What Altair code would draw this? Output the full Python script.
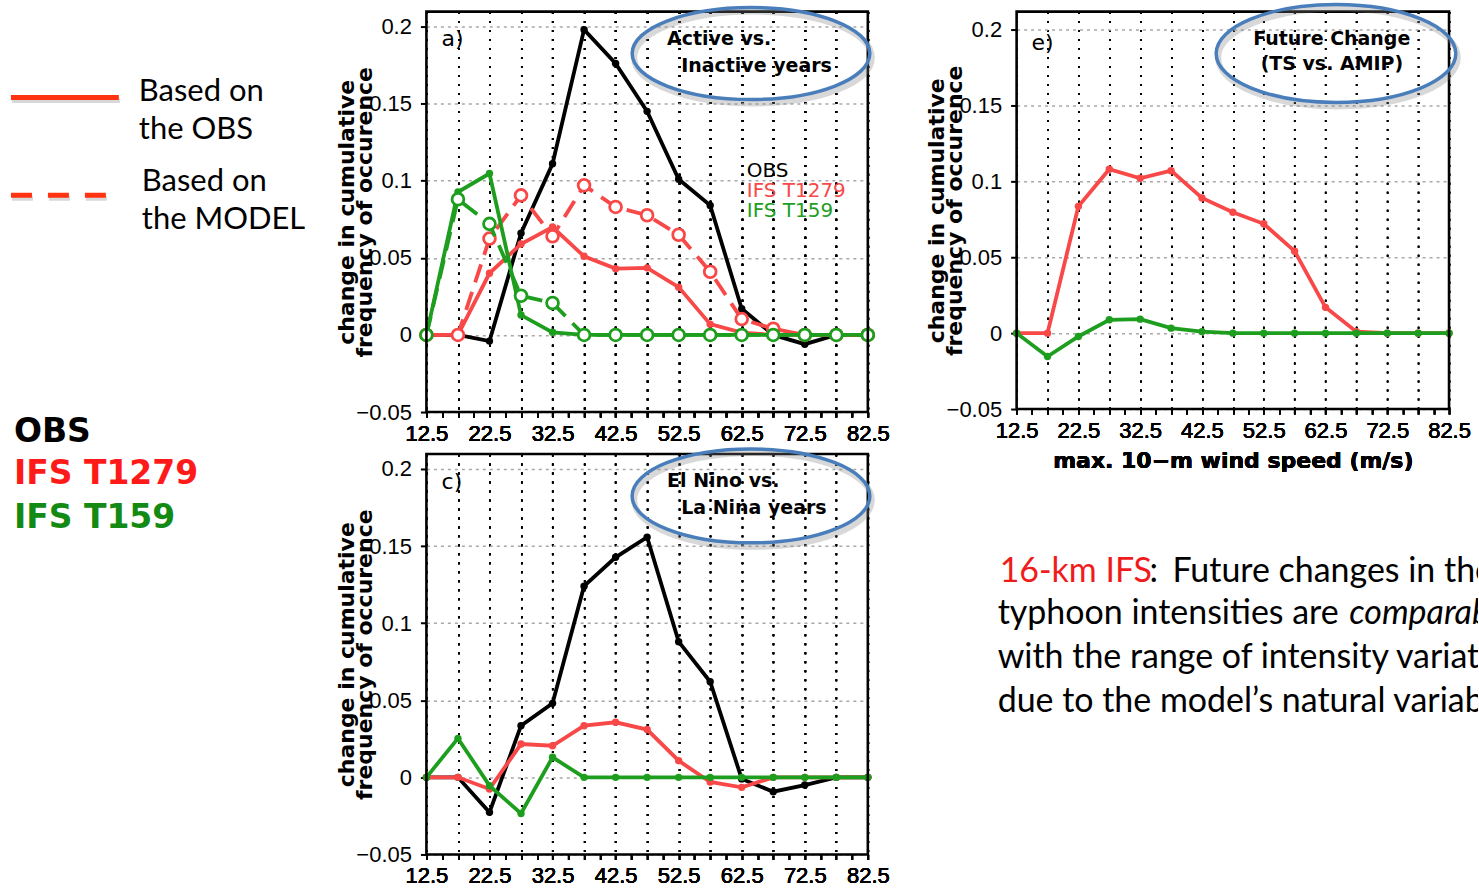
import altair as alt
import pandas as pd

# ---------------- data ----------------
speeds = [12.5, 17.5, 22.5, 27.5, 32.5, 37.5, 42.5, 47.5, 52.5, 57.5, 62.5, 67.5, 72.5, 77.5, 82.5]
minor_ticks = [12.5, 15, 17.5, 20, 22.5, 25, 27.5, 30, 32.5, 35, 37.5, 40, 42.5, 45, 47.5, 50,
               52.5, 55, 57.5, 60, 62.5, 65, 67.5, 70, 72.5, 75, 77.5, 80, 82.5]
series_names = ["OBS", "IFS T1279", "IFS T159"]
y_ticks = [-0.05, 0, 0.05, 0.1, 0.15, 0.2]

# panel a) Active vs. Inactive years
a_obs = [0, 0, -0.004, 0.066, 0.111, 0.198, 0.176, 0.145, 0.101, 0.084, 0.017, 0.0, -0.006, 0, 0]
a_t1279_obs = [0, 0, 0.040, 0.059, 0.070, 0.051, 0.043, 0.0435, 0.031, 0.007, 0.0015, 0, 0, 0, 0]
a_t1279_model = [0, 0, 0.0625, 0.0905, 0.064, 0.097, 0.083, 0.0776, 0.065, 0.041, 0.0103, 0.004, 0, 0, 0]
a_t159_obs = [0, 0.0927, 0.1047, 0.0129, 0.0017, 0, 0, 0, 0, 0, 0, 0, 0, 0, 0]
a_t159_model = [0, 0.088, 0.072, 0.0254, 0.0207, 0, 0, 0, 0, 0, 0, 0, 0, 0, 0]

# panel c) El Nino vs. La Nina years
c_obs = [0, 0, -0.0227, 0.0335, 0.048, 0.124, 0.1427, 0.1557, 0.088, 0.062, -0.001, -0.0093, -0.005, 0, 0]
c_t1279 = [0, 0, -0.0076, 0.0216, 0.0205, 0.0335, 0.0357, 0.031, 0.0108, -0.003, -0.0065, 0, 0, 0, 0]
c_t159 = [0, 0.0253, -0.0054, -0.0234, 0.013, 0, 0, 0, 0, 0, 0, 0, 0, 0, 0]

# panel e) Future change (TS vs. AMIP)
e_t1279 = [0, 0, 0.0835, 0.108, 0.102, 0.107, 0.089, 0.0796, 0.072, 0.054, 0.017, 0.001, 0, 0, 0]
e_t159 = [0, -0.0154, -0.0022, 0.0088, 0.0092, 0.0033, 0.001, 0, 0, 0, 0, 0, 0, 0, 0]

rows = []


def add(panel, series, basis, vals):
    for s, v in zip(speeds, vals):
        rows.append(dict(panel=panel, series=series, basis=basis, speed=s, value=v))


add("a", "OBS", "OBS", a_obs)
add("a", "IFS T1279", "OBS", a_t1279_obs)
add("a", "IFS T1279", "MODEL", a_t1279_model)
add("a", "IFS T159", "OBS", a_t159_obs)
add("a", "IFS T159", "MODEL", a_t159_model)
add("c", "OBS", "OBS", c_obs)
add("c", "IFS T1279", "OBS", c_t1279)
add("c", "IFS T159", "OBS", c_t159)
add("e", "IFS T1279", "OBS", e_t1279)
add("e", "IFS T159", "OBS", e_t159)
df = pd.DataFrame(rows)

# ---------------- styles ----------------
TICKFONT = "Liberation Sans"
GRFONT = "DejaVu Sans"
SLIDEFONT = "Lato"
RED = "#f84848"
GREEN = "#1e9e1e"
color_scale = alt.Scale(domain=series_names, range=["#000000", RED, GREEN])
BLUE = "#4a7ebb"
NOSTROKE = alt.ViewBackground(stroke="transparent")

# grid-only x axis (dotted verticals every 5 m/s)
X_GRID_AXIS = alt.Axis(values=speeds, grid=True, gridColor="black", gridDash=[2, 7], gridWidth=1.6,
                       gridOpacity=1, domain=False, ticks=False, labels=False, title="",
                       orient="bottom")


def x_label_axis(title=None):
    kw = dict(
        values=minor_ticks, orient="bottom",
        labelExpr="(datum.value - 12.5) % 10 == 0 ? toString(datum.value) : ''",
        grid=False, domain=False, ticks=True, tickSize=5, tickWidth=1.6, tickColor="black",
        labelFont=TICKFONT, labelFontSize=22, labelColor="black", labelPadding=6,
        labelFlush=False, labelOverlap=False,
    )
    if title:
        kw.update(title=title, titleFont=GRFONT, titleFontSize=22, titleFontWeight="bold",
                  titleColor="black", titlePadding=10)
    else:
        kw.update(title="")
    return alt.Axis(**kw)


def y_axis(height, offset):
    return alt.Axis(
        values=y_ticks, offset=offset,
        labelExpr="datum.value < 0 ? '\u2212' + toString(-datum.value) : toString(datum.value)",
        grid=True, gridColor="#a8a8a8", gridDash=[3, 4], gridWidth=1.5, gridOpacity=1,
        domain=False, ticks=True, tickSize=6, tickWidth=2, tickColor="black",
        labelFont=TICKFONT, labelFontSize=22, labelColor="black", labelPadding=9,
        labelFlush=False, labelOverlap=False,
        title=["change in cumulative", "frequency of occurence"],
        titleFont=GRFONT, titleFontSize=22, titleFontWeight="bold", titleColor="black",
        titleX=-80, titleY=height / 2, titleAngle=270, titleAlign="center",
        titleBaseline="middle", titleLineHeight=18,
    )


def ellipse_path(r):
    k = 0.5523

    def f(v):
        return f"{v:.4f}"
    return (f"M -1 0 C -1 {f(-k * r)} {f(-k)} {f(-r)} 0 {f(-r)} "
            f"C {f(k)} {f(-r)} 1 {f(-k * r)} 1 0 "
            f"C 1 {f(k * r)} {f(k)} {f(r)} 0 {f(r)} "
            f"C {f(-k)} {f(r)} -1 {f(k * r)} -1 0 Z")


def panel(key, width, height, ymax, label, label_pos, ell, ell_lines, legend=None, xtitle=None,
          lead=0):
    # `lead` = empty pixels kept at the left of the cell (axis sits after them)
    xs = alt.Scale(domain=[12.5, 82.5], nice=False, zero=False, range=[lead, width])
    ys = alt.Scale(domain=[-0.05, ymax], nice=False, zero=False)
    xlab = x_label_axis(xtitle)
    ya = y_axis(height, -lead)
    d = df[df.panel == key]
    layers = []
    for name in series_names:
        for basis in ["OBS", "MODEL"]:
            sub = d[(d.series == name) & (d.basis == basis)]
            if sub.empty:
                continue
            enc = dict(x=alt.X("speed:Q", scale=xs, axis=X_GRID_AXIS),
                       y=alt.Y("value:Q", scale=ys, axis=ya))
            base = alt.Chart(sub)
            if basis == "OBS":
                layers.append(base.mark_line(strokeWidth=3.8).encode(
                    color=alt.Color("series:N", scale=color_scale, legend=None), **enc))
                layers.append(base.mark_point(filled=True, size=55, opacity=1).encode(
                    color=alt.Color("series:N", scale=color_scale, legend=None), **enc))
            else:
                layers.append(base.mark_line(strokeWidth=3.8, strokeDash=[19, 10]).encode(
                    color=alt.Color("series:N", scale=color_scale, legend=None), **enc))
                layers.append(base.mark_point(filled=True, fill="white", size=140, strokeWidth=2.8,
                                              opacity=1).encode(
                    stroke=alt.Stroke("series:N", scale=color_scale, legend=None), **enc))

    one = pd.DataFrame({"k": [0]})

    def dat(xv, yv):
        return dict(x=alt.XDatum(xv, scale=xs, axis=xlab), y=alt.YDatum(yv, scale=ys, axis=ya))

    # plot frame
    layers.append(alt.Chart(one).mark_rect(filled=False, color="black", strokeWidth=2.6).encode(
        x2=alt.X2Datum(82.5), y2=alt.Y2Datum(ymax), **dat(12.5, -0.05)))

    # ellipse annotation
    cx, cy, rx, ry = ell
    path = ellipse_path(ry / rx)
    size = (2 * rx) ** 2
    layers.append(alt.Chart(one).mark_point(shape=path, size=size, filled=False, color="#808080",
                                            opacity=0.3, strokeWidth=6, xOffset=2, yOffset=4,
                                            strokeJoin="round")
                  .encode(**dat(cx, cy)))
    layers.append(alt.Chart(one).mark_point(shape=path, size=size, filled=False, color=BLUE,
                                            opacity=1, strokeWidth=3.5, strokeJoin="round")
                  .encode(**dat(cx, cy)))

    def ptxt(s, xv, yv, size, color="black", weight="normal"):
        return alt.Chart(pd.DataFrame({"t": [s]})).mark_text(
            align="left", baseline="middle", font=GRFONT, fontSize=size, fontWeight=weight,
            color=color).encode(text="t:N", **dat(xv, yv))

    for s, xv, yv in ell_lines:
        layers.append(ptxt(s, xv, yv, 19, weight="bold"))
    layers.append(ptxt(label, label_pos[0], label_pos[1], 22))
    if legend:
        for s, xv, yv, col in legend:
            layers.append(ptxt(s, xv, yv, 20, col))
    return alt.layer(*layers).resolve_axis(x="independent").properties(
        width=width, height=height, view=NOSTROKE)


panel_a = panel(
    "a", 442, 401, 0.2097, "a)", (14.9, 0.1916),
    (63.97, 0.1825, 119, 46),
    [("Active  vs.", 50.67, 0.1922), ("Inactive  years", 52.9, 0.1747)],
    legend=[("OBS", 63.3, 0.1061, "black"), ("IFS  T1279", 63.3, 0.0932, RED),
            ("IFS  T159", 63.3, 0.0802, GREEN)],
)
panel_c = panel(
    "c", 442, 401, 0.2097, "c)", (14.9, 0.1916),
    (63.97, 0.1825, 119, 47),
    [("El  Nino  vs.", 50.67, 0.1922), ("La  Nina  years", 52.9, 0.1747)],
)
panel_e = panel(
    "e", 452, 398, 0.2118, "e)", (14.9, 0.1914),
    (64.2, 0.1842, 120, 49),
    [("Future  Change", 50.8, 0.1935), ("(TS  vs.  AMIP)", 52.0, 0.1775)],
    xtitle="max.  10\u2212m  wind  speed  (m/s)", lead=19,
)


def stxt(s, x, y, size, color="black", weight="normal", style="normal", clip=False, font=SLIDEFONT):
    return alt.Chart(pd.DataFrame({"t": [s]})).mark_text(
        align="left", baseline="middle", font=font, fontSize=size, fontWeight=weight,
        fontStyle=style, color=color, clip=clip).encode(x=alt.value(x), y=alt.value(y), text="t:N")


one_row = pd.DataFrame({"k": [0]})
legend_left = alt.layer(
    alt.Chart(one_row).mark_rule(color="#909090", opacity=0.35, strokeWidth=5).encode(
        x=alt.value(11), x2=alt.value(119), y=alt.value(89)),
    alt.Chart(one_row).mark_rule(color="#ff3311", strokeWidth=5).encode(
        x=alt.value(10), x2=alt.value(118), y=alt.value(86)),
    alt.Chart(one_row).mark_rule(color="#909090", opacity=0.35, strokeWidth=5,
                                 strokeDash=[21, 16]).encode(
        x=alt.value(11), x2=alt.value(106), y=alt.value(187)),
    alt.Chart(one_row).mark_rule(color="#ff3311", strokeWidth=5, strokeDash=[21, 16]).encode(
        x=alt.value(10), x2=alt.value(105), y=alt.value(184)),
    stxt("Based on", 138, 81, 31),
    stxt("the OBS", 138, 119, 31),
    stxt("Based on", 141, 171, 31),
    stxt("the MODEL", 141, 209, 31),
    stxt("OBS", 13, 421, 33, "black", weight="bold", font=GRFONT),
    stxt("IFS T1279", 13, 463, 33, "#ff1a1a", weight="bold", font=GRFONT),
    stxt("IFS T159", 13, 507, 33, "#138a13", weight="bold", font=GRFONT),
).properties(width=426, height=401, view=NOSTROKE)


def spacer(w, h):
    return alt.Chart(pd.DataFrame({"t": [""]})).mark_text().encode(text="t:N").properties(
        width=w, height=h, view=NOSTROKE)


note = alt.layer(
    stxt("16-km IFS", 2, 118, 34, "#f01c1c", clip=True),
    stxt(":", 152, 118, 34, clip=True),
    stxt("Future changes in the", 175, 118, 34, clip=True),
    stxt("typhoon intensities are", 0, 160, 34, clip=True),
    stxt("comparable", 352, 160, 34, style="italic", clip=True),
    stxt("with the range of intensity variation", 0, 204, 34, clip=True),
    stxt("due to the model\u2019s natural variability", 0, 248, 34, clip=True),
).properties(width=481, height=401, view=NOSTROKE)

chart = alt.concat(
    legend_left, panel_a, spacer(130, 401), panel_e,
    spacer(426, 401), panel_c, spacer(130, 401), note,
    columns=4,
    spacing=alt.RowColnumber(row=42, column=0),
    align="each",
    bounds="flush",
).properties(
    padding={"left": 0, "top": 1, "right": 0, "bottom": 0}
)

chart.save("out.html", embed_options={"renderer": "svg", "actions": False})
